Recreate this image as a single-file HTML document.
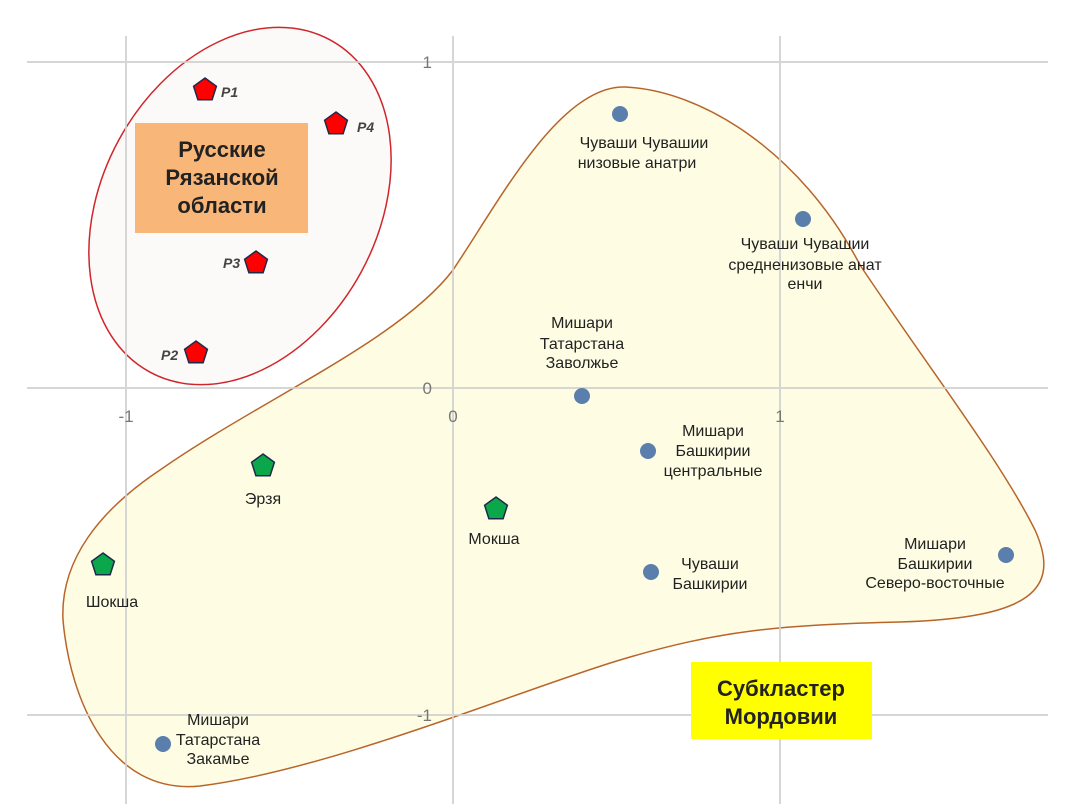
<!DOCTYPE html>
<html><head><meta charset="utf-8"><style>
html,body{margin:0;padding:0;background:#fff;}
svg{display:block;}
text{font-family:"Liberation Sans","DejaVu Sans",sans-serif;}
</style></head><body>
<svg width="1090" height="804" viewBox="0 0 1090 804" xmlns="http://www.w3.org/2000/svg">
<defs>
<polygon id="pent" points="0,-12 11.4,-3.7 7.1,9.7 -7.1,9.7 -11.4,-3.7" stroke="#1f2a4a" stroke-width="1.5"/>
</defs>
<ellipse cx="240" cy="206" rx="138" ry="189" transform="rotate(28.5 240 206)" fill="#fbfaf8" stroke="#d0262b" stroke-width="1.5"/>
<path d="M 453 270 C 500 200, 560 85, 625 87 C 700 90, 800 150, 860 265 C 930 370, 1000 460, 1035 530 C 1062 590, 1030 618, 900 622 C 780 625, 720 630, 620 660 C 520 690, 330 770, 200 786 C 110 795, 70 700, 63 620 C 60 560, 100 510, 160 470 C 260 400, 400 340, 453 270 Z" fill="#fefde0" fill-opacity="0.9" stroke="#b8652a" stroke-width="1.5"/>
<g stroke="#d0d0d0" stroke-width="2" opacity="0.85">
<line x1="27" y1="62" x2="1048" y2="62"/>
<line x1="27" y1="388" x2="1048" y2="388"/>
<line x1="27" y1="715" x2="1048" y2="715"/>
<line x1="126" y1="36" x2="126" y2="804"/>
<line x1="453" y1="36" x2="453" y2="804"/>
<line x1="780" y1="36" x2="780" y2="804"/>
</g>
<g fill="#777" font-size="17">
<text x="432" y="68" text-anchor="end">1</text>
<text x="432" y="394" text-anchor="end">0</text>
<text x="432" y="721" text-anchor="end">-1</text>
<text x="126" y="422" text-anchor="middle">-1</text>
<text x="453" y="422" text-anchor="middle">0</text>
<text x="780" y="422" text-anchor="middle">1</text>
</g>
<rect x="135" y="123" width="173" height="110" fill="#f8b679"/>
<g font-size="22" font-weight="bold" fill="#222" text-anchor="middle">
<text x="222" y="157">Русские</text>
<text x="222" y="185">Рязанской</text>
<text x="222" y="213">области</text>
</g>
<rect x="691" y="662" width="181" height="77" fill="#ffff00"/>
<g font-size="22" font-weight="bold" fill="#222" text-anchor="middle">
<text x="781" y="696">Субкластер</text>
<text x="781" y="724">Мордовии</text>
</g>
<g fill="#ff0000">
<use href="#pent" x="205" y="90"/>
<use href="#pent" x="336" y="124"/>
<use href="#pent" x="256" y="263"/>
<use href="#pent" x="196" y="353"/>
</g>
<g font-size="14" font-weight="bold" font-style="italic" fill="#444">
<text x="221" y="97">P1</text>
<text x="357" y="132">P4</text>
<text x="223" y="268">P3</text>
<text x="161" y="360">P2</text>
</g>
<g fill="#0aa84a">
<use href="#pent" x="263" y="466"/>
<use href="#pent" x="496" y="509"/>
<use href="#pent" x="103" y="565"/>
</g>
<g fill="#5b7fad">
<circle cx="620" cy="114" r="8"/>
<circle cx="803" cy="219" r="8"/>
<circle cx="582" cy="396" r="8"/>
<circle cx="648" cy="451" r="8"/>
<circle cx="651" cy="572" r="8"/>
<circle cx="1006" cy="555" r="8"/>
<circle cx="163" cy="744" r="8"/>
</g>
<g font-size="16" fill="#222" text-anchor="middle">
<text x="263" y="504">Эрзя</text>
<text x="494" y="544">Мокша</text>
<text x="112" y="607">Шокша</text>
<text x="644" y="148">Чуваши Чувашии</text>
<text x="637" y="168">низовые анатри</text>
<text x="805" y="249">Чуваши Чувашии</text>
<text x="805" y="270">средненизовые анат</text>
<text x="805" y="289">енчи</text>
<text x="582" y="328">Мишари</text>
<text x="582" y="349">Татарстана</text>
<text x="582" y="368">Заволжье</text>
<text x="713" y="436">Мишари</text>
<text x="713" y="456">Башкирии</text>
<text x="713" y="476">центральные</text>
<text x="710" y="569">Чуваши</text>
<text x="710" y="589">Башкирии</text>
<text x="935" y="549">Мишари</text>
<text x="935" y="569">Башкирии</text>
<text x="935" y="588">Северо-восточные</text>
<text x="218" y="725">Мишари</text>
<text x="218" y="745">Татарстана</text>
<text x="218" y="764">Закамье</text>
</g>
</svg>
</body></html>
